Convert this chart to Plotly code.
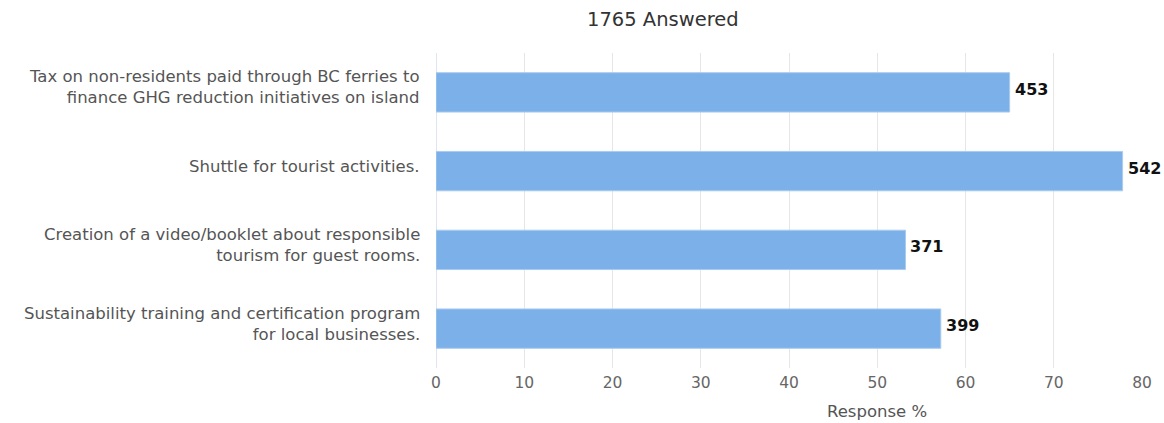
import plotly.graph_objects as go

# Survey options (top to bottom) and their results
options = [
    "Tax on non-residents paid through BC ferries to<br>finance GHG reduction initiatives on island",
    "Shuttle for tourist activities.",
    "Creation of a video/booklet about responsible<br>tourism for guest rooms.",
    "Sustainability training and certification program<br>for local businesses.",
]
response_pct = [65.0, 77.8, 53.2, 57.2]
response_count = [453, 542, 371, 399]
x_ticks = [0, 10, 20, 30, 40, 50, 60, 70, 80]

FONT = "DejaVu Sans"
W, H = 1164, 423
ML, MR, MT, MB = 436, 20, 53, 55
PW, PH = W - ML - MR, H - MT - MB

fig = go.Figure(
    go.Bar(
        x=response_pct,
        y=options,
        orientation="h",
        marker=dict(color="#7cb0e8", line=dict(color="#a9cbef", width=1)),
        width=0.5,
        hoverinfo="skip",
    )
)

# Category labels, right-aligned left of the plot, sitting slightly above bar centre
for opt in options:
    fig.add_annotation(
        x=0, xref="paper", y=opt, yref="y",
        text=opt, showarrow=False, align="right",
        xanchor="right", yanchor="middle",
        xshift=-14, yshift=5,
        font=dict(family=FONT, size=16.5, color="#555555"),
    )

# Count labels just past the end of each bar
for opt, pct, cnt in zip(options, response_pct, response_count):
    fig.add_annotation(
        x=pct, y=opt, xref="x", yref="y",
        text=f"<b>{cnt}</b>", showarrow=False,
        xanchor="left", yanchor="middle", xshift=3, yshift=3,
        font=dict(family=FONT, size=16, color="#111111"),
    )

# Chart heading and axis caption, placed in pixel terms
fig.add_annotation(
    x=(664 - ML) / PW, y=1 + (MT - 20) / PH, xref="paper", yref="paper",
    text="1765 Answered", showarrow=False, xanchor="center", yanchor="middle",
    font=dict(family=FONT, size=19.5, color="#333333"),
)
fig.add_annotation(
    x=(878 - ML) / PW, y=-(411 - (H - MB)) / PH, xref="paper", yref="paper",
    text="Response %", showarrow=False, xanchor="center", yanchor="middle",
    font=dict(family=FONT, size=16.5, color="#555555"),
)

fig.update_layout(
    width=W, height=H,
    margin=dict(l=ML, r=MR, t=MT, b=MB),
    paper_bgcolor="white", plot_bgcolor="white",
    showlegend=False,
    font=dict(family=FONT, color="#555555"),
)

fig.update_xaxes(
    range=[0, 80], tickvals=x_ticks, showgrid=True, gridcolor="#e6e6e6", gridwidth=1,
    zeroline=True, zerolinecolor="#dfe5ee", zerolinewidth=1, showline=False,
    tickfont=dict(family=FONT, size=15.5, color="#666666"), ticks="",
    ticklabelstandoff=3, fixedrange=True,
)
fig.update_yaxes(
    autorange="reversed", showgrid=False, showline=False,
    showticklabels=False, ticks="", fixedrange=True,
)

fig.write_html("out.html", config={"displayModeBar": False})
